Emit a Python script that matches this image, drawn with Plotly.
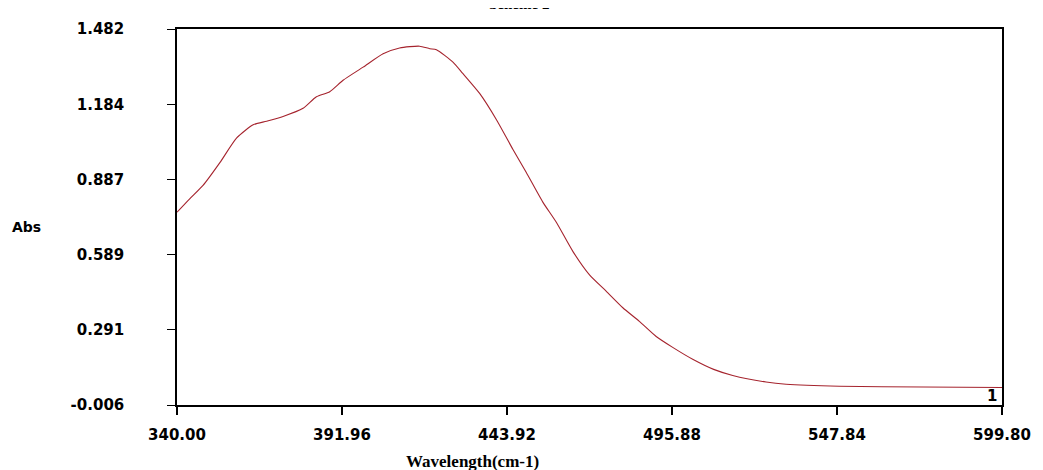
import plotly.graph_objects as go

wavelength = [340.0, 344.0, 348.2, 353.5, 358.8, 364.0, 368.2, 373.4, 379.7, 383.9,
              388.1, 392.3, 398.6, 404.9, 410.1, 416.4, 419.6, 421.7, 426.9, 430.0,
              435.3, 440.6, 445.8, 450.0, 455.2, 459.4, 464.7, 469.9, 475.2, 480.4,
              485.6, 490.9, 496.1, 502.4, 509.0, 515.0, 525.5, 531.8, 548.6, 575.0, 599.8]
absorbance = [0.757, 0.810, 0.863, 0.953, 1.051, 1.103, 1.117, 1.136, 1.168, 1.214,
              1.234, 1.279, 1.331, 1.384, 1.407, 1.414, 1.404, 1.400, 1.351, 1.306,
              1.227, 1.123, 1.005, 0.914, 0.797, 0.718, 0.601, 0.509, 0.444, 0.379,
              0.325, 0.265, 0.222, 0.175, 0.135, 0.111, 0.085, 0.076, 0.068, 0.065, 0.063]

x_ticks = [340.00, 391.96, 443.92, 495.88, 547.84, 599.80]
x_tick_labels = ["340.00", "391.96", "443.92", "495.88", "547.84", "599.80"]
y_ticks = [-0.006, 0.291, 0.589, 0.887, 1.184, 1.482]
y_tick_labels = ["-0.006", "0.291", "0.589", "0.887", "1.184", "1.482"]

tick_font = dict(family="DejaVu Sans", size=15, color="black", weight="bold")
serif_font = dict(family="Liberation Serif", size=15, color="black", weight="bold")

fig = go.Figure()
fig.add_trace(go.Scatter(x=wavelength, y=absorbance, mode="lines",
                         line=dict(color="rgb(165,35,45)", width=1.1,
                                   shape="spline", smoothing=0.6),
                         hoverinfo="skip", showlegend=False))

fig.update_layout(
    width=1035, height=462,
    margin=dict(l=169, r=40, t=17, b=65),
    paper_bgcolor="white", plot_bgcolor="white",
    showlegend=False,
    xaxis=dict(range=[340.0, 599.8], tickvals=x_ticks, ticktext=x_tick_labels,
               showgrid=False, zeroline=False, showline=True, mirror=True,
               linecolor="black", linewidth=1.5, ticks="outside", ticklen=8,
               tickcolor="black", tickwidth=1.5, tickfont=tick_font,
               ticklabelstandoff=7),
    yaxis=dict(range=[-0.006, 1.482], tickvals=y_ticks, ticktext=y_tick_labels,
               showgrid=False, zeroline=False, showline=True, mirror=True,
               linecolor="black", linewidth=1.5, ticks="outside", ticklen=8,
               tickcolor="black", tickwidth=1, tickfont=tick_font,
               ticklabelstandoff=40),
    annotations=[
        dict(text="Scheme 2", x=0.415, y=1.04, xref="paper", yref="paper",
             xanchor="center", yanchor="bottom", showarrow=False, font=serif_font),
        dict(text="Abs", x=-0.202, y=0.4737, xref="paper", yref="paper",
             xanchor="left", yanchor="middle", showarrow=False,
             font=dict(family="DejaVu Sans", size=14, color="black", weight="bold")),
        dict(text="Wavelength(cm-1)", x=0.358, y=-0.15, xref="paper", yref="paper",
             xanchor="center", yanchor="middle", showarrow=False,
             font=dict(family="Liberation Serif", size=17, color="black", weight="bold")),
        dict(text="1", x=0.996, y=-0.005, xref="paper", yref="paper",
             xanchor="right", yanchor="bottom", showarrow=False, font=tick_font),
    ],
)

fig.write_html("out.html")
